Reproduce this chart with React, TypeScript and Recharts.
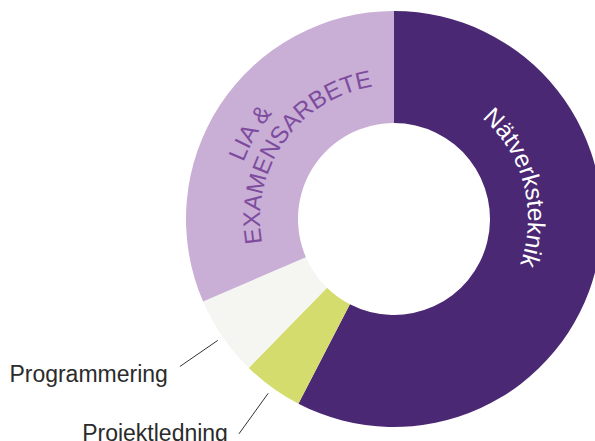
import React from 'react';
import { PieChart, Pie, Cell } from 'recharts';

const categories = ['Nätverksteknik', 'Projektledning', 'Programmering', 'LIA & EXAMENSARBETE'];
const shares = [57.6, 4.7, 6.2, 31.5];
const labelTexts = [['Nätverksteknik'], ['Projektledning'], ['Programmering'], ['LIA &', 'EXAMENSARBETE']];
const colors = ['#4b2873', '#d3dc6c', '#f5f6f1', '#c9aed5'];

const data = categories.map((name, i) => ({ name, value: shares[i] }));

const FONT = '"Liberation Sans", Arial, Helvetica, sans-serif';
const RAD = Math.PI / 180;

// point by angle measured clockwise from 12 o'clock
const pt = (cx: number, cy: number, r: number, theta: number) => ({
  x: cx + r * Math.sin(theta * RAD),
  y: cy - r * Math.cos(theta * RAD),
});

// curved label settings (radius of baseline, angular offset from slice middle)
const curved: Record<number, { r: number; d: number; fill: string; size: number }[]> = {
  0: [{ r: 134, d: -28.3, fill: '#ffffff', size: 24.5 }],
  3: [
    { r: 161, d: -2.5, fill: '#7d4c9e', size: 24 },
    { r: 134, d: 2, fill: '#7d4c9e', size: 24 },
  ],
};
// outside labels: leader line radii and text offset from the line end
const outside: Record<number, { r1: number; r2: number; dx: number; dy: number }> = {
  1: { r1: 215, r2: 265, dx: -11, dy: 7 },
  2: { r1: 214, r2: 260, dx: -12, dy: 16 },
};

const renderLabel = (props: any) => {
  const { cx, cy, midAngle, index } = props;
  const thetaMid = 90 - midAngle;
  const lines = labelTexts[index];
  if (curved[index]) {
    return (
      <g key={`lbl-${index}`}>
        {curved[index].map((c, j) => {
          const tc = thetaMid + c.d;
          const a = pt(cx, cy, c.r, tc - 85);
          const b = pt(cx, cy, c.r, tc + 85);
          const id = `arc-${index}-${j}`;
          return (
            <g key={id}>
              <defs>
                <path id={id} d={`M ${a.x} ${a.y} A ${c.r} ${c.r} 0 0 1 ${b.x} ${b.y}`} fill="none" />
              </defs>
              <text fill={c.fill} fontSize={c.size} fontFamily={FONT} textAnchor="middle">
                <textPath href={`#${id}`} startOffset="50%">
                  {lines[j]}
                </textPath>
              </text>
            </g>
          );
        })}
      </g>
    );
  }
  const o = outside[index];
  if (!o) return null;
  const p1 = pt(cx, cy, o.r1, thetaMid);
  const p2 = pt(cx, cy, o.r2, thetaMid);
  return (
    <g key={`lbl-${index}`}>
      <line x1={p1.x} y1={p1.y} x2={p2.x} y2={p2.y} stroke="#333333" strokeWidth={1} />
      <text x={p2.x + o.dx} y={p2.y + o.dy} textAnchor="end" fill="#2b2b2b" fontSize={23} fontFamily={FONT}>
        {lines[0]}
      </text>
    </g>
  );
};

export default function App() {
  return (
    <div style={{ position: 'absolute', left: 0, top: 0, width: 595, height: 441, background: '#ffffff', overflow: 'hidden' }}>
      <PieChart width={595} height={441} margin={{ top: 0, right: 0, bottom: 0, left: 0 }}>
        <Pie
          data={data}
          dataKey="value"
          nameKey="name"
          cx={394}
          cy={219}
          innerRadius={96}
          outerRadius={208}
          startAngle={90}
          endAngle={-270}
          stroke="none"
          label={renderLabel}
          labelLine={false}
          isAnimationActive={false}
        >
          {data.map((d, i) => (
            <Cell key={d.name} fill={colors[i]} />
          ))}
        </Pie>
      </PieChart>
    </div>
  );
}
